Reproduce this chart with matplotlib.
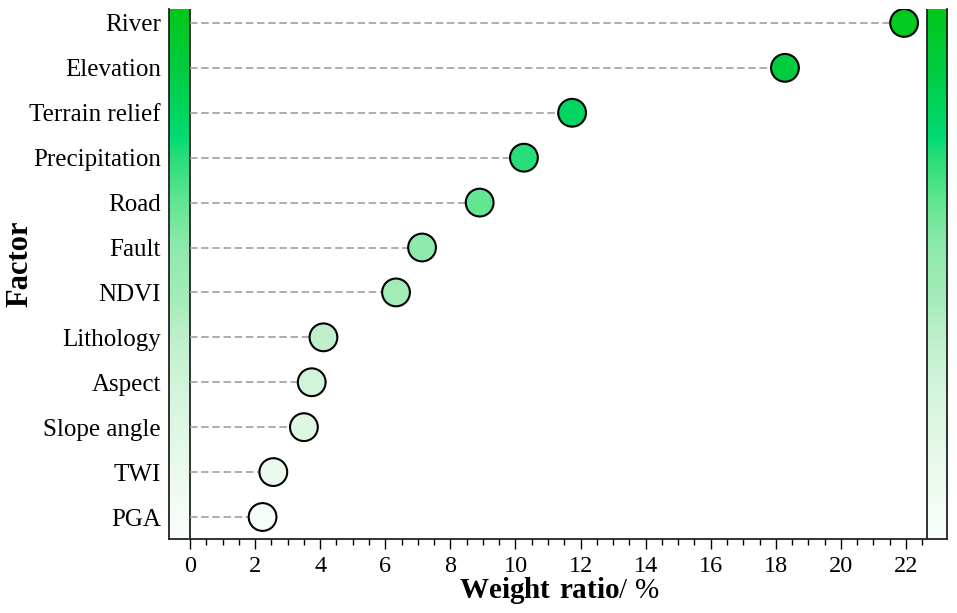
import numpy as np
import matplotlib
matplotlib.use('Agg')
import matplotlib.pyplot as plt
from matplotlib.colors import LinearSegmentedColormap, Normalize

# factor names (bottom to top) and weight ratios (%)
factors = ['PGA', 'TWI', 'Slope angle', 'Aspect', 'Lithology', 'NDVI',
           'Fault', 'Road', 'Precipitation', 'Terrain relief', 'Elevation', 'River']
weights = [2.23, 2.56, 3.5, 3.74, 4.1, 6.33, 7.13, 8.9, 10.26, 11.74, 18.28, 21.94]
xticks = list(range(0, 23, 2))

plt.rcParams['font.family'] = 'Liberation Serif'
plt.rcParams['mathtext.fontset'] = 'custom'
plt.rcParams['mathtext.rm'] = 'Liberation Serif'
plt.rcParams['mathtext.bf'] = 'Liberation Serif:bold'

# green gradient used for the side strips and the markers
cmap = LinearSegmentedColormap.from_list('greens', [
    (0.00, '#fafefa'), (0.12, '#ebfaee'), (0.21, '#def7e3'), (0.29, '#d2f4db'),
    (0.38, '#bff0cb'), (0.46, '#a2ecb8'), (0.55, '#8eeaac'), (0.63, '#66e692'),
    (0.72, '#2ade7a'), (0.76, '#00dc74'), (0.80, '#00d662'), (0.89, '#00cc40'),
    (1.00, '#00c81a')])

fig = plt.figure(figsize=(9.57, 6.13), dpi=100)
ax = fig.add_axes([0.1766, 0.1207, 0.813, 0.8646])

ypos = np.arange(len(factors))
ylo, yhi = -0.49, len(factors) - 1 + 0.31
xlo, xhi = -0.645, 23.26
strip_r = 22.64

norm = Normalize(ylo, yhi)
colors = cmap(norm(ypos))

grad = np.linspace(1, 0, 256).reshape(-1, 1)
ax.imshow(grad, cmap=cmap, aspect='auto', extent=[xlo, 0, ylo, yhi], zorder=1)
ax.imshow(grad, cmap=cmap, aspect='auto', extent=[strip_r, xhi, ylo, yhi], zorder=1)
ax.axvline(0, color='#222222', lw=1.3, zorder=2)
ax.axvline(strip_r, color='#222222', lw=1.3, zorder=2)

ax.hlines(ypos, 0, weights, colors='#a0a0a0', lw=1.2, linestyles=(0, (4.5, 2.2)), zorder=2)
ax.scatter(weights, ypos, s=400, c=colors, edgecolors='black', linewidths=1.5, zorder=3)

ax.set_xlim(xlo, xhi)
ax.set_ylim(ylo, yhi)
ax.set_xticks(xticks)
ax.set_xticks(np.arange(0, 22.6, 0.5), minor=True)
ax.set_yticks(ypos)
ax.set_yticklabels(factors)
ax.tick_params(axis='x', which='major', length=7, width=1, labelsize=17.5, direction='out', pad=5)
ax.tick_params(axis='x', which='minor', length=4, width=1, direction='out')
ax.tick_params(axis='y', length=0, labelsize=18, pad=6)

ax.spines['top'].set_visible(False)
for s in ['left', 'bottom', 'right']:
    ax.spines[s].set_linewidth(1.3)
    ax.spines[s].set_color('#222222')

ax.set_xlabel(r'$\mathbf{Weight\ ratio}$/ %', fontsize=21)
ax.xaxis.set_label_coords(0.502, -0.111, transform=ax.transAxes)
ax.xaxis.label.set_va('baseline')
ax.set_ylabel('Factor', fontsize=22, fontweight='bold')
ax.yaxis.set_label_coords(-0.1915, 0.519, transform=ax.transAxes)
ax.yaxis.label.set_va('center')

fig.savefig('out.png', dpi=100)
